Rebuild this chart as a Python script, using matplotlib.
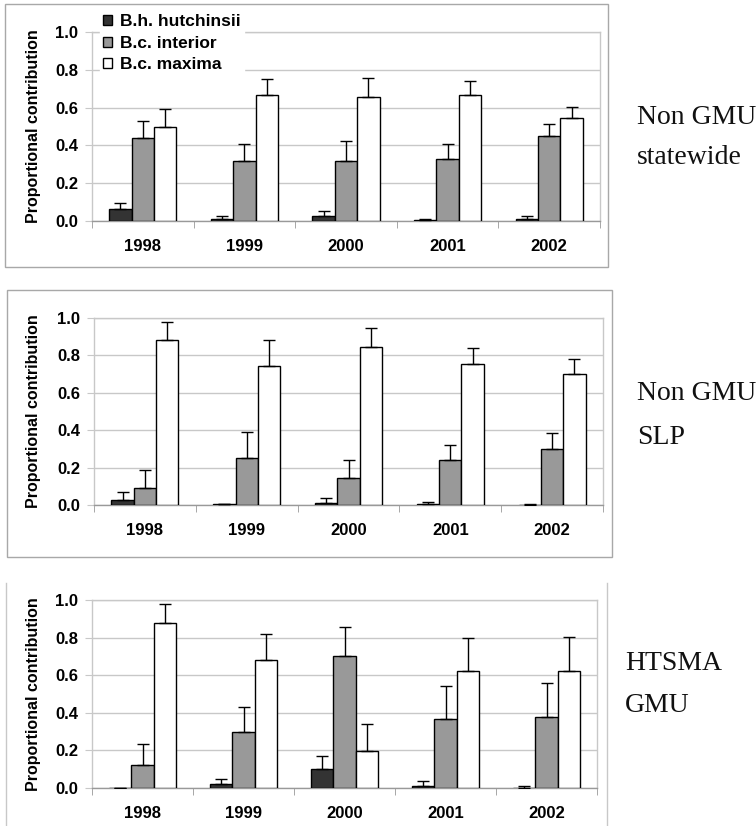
import matplotlib
matplotlib.use('Agg')
import matplotlib.pyplot as plt
import numpy as np
from matplotlib.patches import Rectangle
from matplotlib.lines import Line2D

plt.rcParams['font.family'] = ['Liberation Sans', 'DejaVu Sans']

years = ['1998', '1999', '2000', '2001', '2002']
series = ['B.h. hutchinsii', 'B.c. interior', 'B.c. maxima']
colors = ['#333333', '#999999', '#ffffff']

# Panel 1: Non GMU statewide
p1_hutch = [0.065, 0.010, 0.027, 0.005, 0.012]
p1_hutch_err = [0.032, 0.015, 0.027, 0.003, 0.015]
p1_interior = [0.44, 0.32, 0.32, 0.33, 0.45]
p1_interior_err = [0.087, 0.087, 0.105, 0.077, 0.065]
p1_maxima = [0.499, 0.667, 0.657, 0.667, 0.543]
p1_maxima_err = [0.091, 0.082, 0.100, 0.076, 0.062]

# Panel 2: Non GMU SLP
p2_hutch = [0.027, 0.003, 0.011, 0.005, 0.002]
p2_hutch_err = [0.045, 0.002, 0.029, 0.010, 0.003]
p2_interior = [0.093, 0.251, 0.142, 0.240, 0.300]
p2_interior_err = [0.094, 0.139, 0.098, 0.083, 0.084]
p2_maxima = [0.881, 0.745, 0.847, 0.756, 0.700]
p2_maxima_err = [0.097, 0.136, 0.099, 0.082, 0.083]

# Panel 3: HTSMA GMU
p3_hutch = [0.0, 0.020, 0.103, 0.012, 0.002]
p3_hutch_err = [0.0, 0.030, 0.069, 0.025, 0.008]
p3_interior = [0.124, 0.297, 0.703, 0.368, 0.378]
p3_interior_err = [0.109, 0.135, 0.151, 0.172, 0.183]
p3_maxima = [0.876, 0.682, 0.195, 0.622, 0.622]
p3_maxima_err = [0.103, 0.135, 0.146, 0.174, 0.181]

panel_labels = [['Non GMU', 'statewide'], ['Non GMU', 'SLP'], ['HTSMA', 'GMU']]

W, H = 756, 826
fig = plt.figure(figsize=(W / 100, H / 100), dpi=100)
fig.patch.set_facecolor('white')

GRAY = '#999999'
LIGHT = '#c8c8c8'


def px_axes(l, r, t, b):
    return fig.add_axes([l / W, 1 - b / H, (r - l) / W, (b - t) / H])


def draw_panel(ax, data):
    x = np.arange(len(years))
    width = 0.22
    offsets = [-width, 0, width]
    handles = []
    for k, (vals, errs) in enumerate(data):
        h = ax.bar(x + offsets[k], vals, width, color=colors[k], edgecolor='black',
                   linewidth=1, zorder=3, label=series[k])
        handles.append(h)
        ax.errorbar(x + offsets[k], vals, yerr=[np.zeros(len(vals)), errs], fmt='none',
                    ecolor='black', elinewidth=1, capsize=4, capthick=1, zorder=4)
    ax.set_xlim(-0.5, len(years) - 0.5)
    ax.set_ylim(0, 1.0)
    ax.set_yticks(np.arange(0, 1.01, 0.2))
    ax.set_yticklabels(['%.1f' % v for v in np.arange(0, 1.01, 0.2)],
                       fontsize=12, fontweight='bold')
    ax.set_xticks(x)
    ax.set_xticklabels(years, fontsize=12, fontweight='bold')
    ax.set_xticks(np.arange(-0.5, len(years), 1), minor=True)
    ax.tick_params(axis='x', which='major', length=0, pad=13)
    ax.tick_params(axis='x', which='minor', length=5, color=GRAY, direction='out')
    ax.tick_params(axis='y', length=5, color=LIGHT, direction='out', pad=5)
    ax.yaxis.grid(True, color=LIGHT, linewidth=1)
    ax.set_axisbelow(True)
    for name, s in ax.spines.items():
        s.set_linewidth(1)
        s.set_color(GRAY if name == 'bottom' else LIGHT)
    return handles


axes_px = [(92, 600, 32, 221), (94, 603, 318, 505), (92, 597, 600, 788)]
datas = [
    [(p1_hutch, p1_hutch_err), (p1_interior, p1_interior_err), (p1_maxima, p1_maxima_err)],
    [(p2_hutch, p2_hutch_err), (p2_interior, p2_interior_err), (p2_maxima, p2_maxima_err)],
    [(p3_hutch, p3_hutch_err), (p3_interior, p3_interior_err), (p3_maxima, p3_maxima_err)],
]
text_pos = [((637, 117), (637, 157)), ((637, 393), (637, 438)), ((625, 664), (625, 705))]

for i, (pos, data) in enumerate(zip(axes_px, datas)):
    l, r, t, b = pos
    ax = px_axes(l, r, t, b)
    handles = draw_panel(ax, data)
    fig.text(34 / W, 1 - ((t + b) / 2) / H, 'Proportional contribution', rotation=90,
             ha='center', va='center', fontsize=11.5, fontweight='bold')
    for (tx, ty), s in zip(text_pos[i], panel_labels[i]):
        fig.text(tx / W, 1 - ty / H, s, ha='left', va='center', fontsize=20,
                 family=['Liberation Serif', 'DejaVu Serif'], color='#111111')
    if i == 0:
        leg = ax.legend(handles=handles, loc='upper left',
                        bbox_to_anchor=(100 / W, 1 - 11 / H), bbox_transform=fig.transFigure,
                        frameon=True, fancybox=False, framealpha=1, edgecolor='white',
                        prop={'weight': 'bold', 'size': 12.5}, handlelength=0.5,
                        handleheight=0.5, handletextpad=0.45, labelspacing=0.37,
                        borderpad=0.2, borderaxespad=0)
        leg.set_zorder(10)

# Panel frames
fig.patches.append(Rectangle((5 / W, 1 - 267 / H), 603 / W, 263 / H, transform=fig.transFigure,
                             fill=False, edgecolor='#a8a8a8', linewidth=1))
fig.patches.append(Rectangle((7 / W, 1 - 557 / H), 605 / W, 267 / H, transform=fig.transFigure,
                             fill=False, edgecolor='#a8a8a8', linewidth=1))
for xx in (6, 607):
    fig.lines.append(Line2D([xx / W, xx / W], [1 - 583 / H, 0], transform=fig.transFigure,
                            color='#c8c8c8', linewidth=1))

fig.savefig('out.png', dpi=100, facecolor='white')
